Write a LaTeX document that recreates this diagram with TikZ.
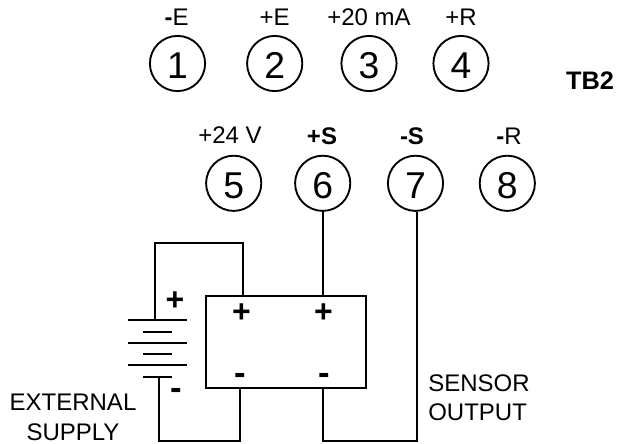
\documentclass[tikz,border=0pt]{standalone}
\usepackage{fontspec}
\setmainfont{Liberation Sans}
\tikzset{
  term/.style={draw=black,circle,line width=1.4pt,minimum size=41.4pt,inner sep=0pt,
    font=\fontsize{28}{28}\selectfont,text height=22.5pt,text depth=0pt},
  lbl/.style={inner sep=0pt,anchor=base,font=\fontsize{18}{18}\selectfont},
  lbll/.style={lbl,anchor=base west},
  tbl/.style={lbl,font=\fontsize{19}{19}\selectfont\bfseries},
  sign/.style={inner sep=0pt,anchor=base,font=\fontsize{24}{24}\selectfont\bfseries},
  msign/.style={inner sep=0pt,anchor=base,font=\fontsize{26}{26}\selectfont\bfseries},
  wire/.style={draw=black,line width=1.4pt,line join=miter},
  plate/.style={draw=black,line width=1.4pt}
}
\begin{document}
\begin{tikzpicture}[x=0.75pt,y=-0.75pt]
\useasboundingbox (0,0) rectangle (617,443);
% terminals
\node[term] (c1) at (177.5,63.5) {1};
\node[term] (c2) at (274.7,63.5) {2};
\node[term] (c3) at (369,63.5) {3};
\node[term] (c4) at (461,63.5) {4};
\node[term] (c5) at (233.7,183.3) {5};
\node[term] (c6) at (322.7,183.3) {6};
\node[term] (c7) at (415.5,183.3) {7};
\node[term] (c8) at (507.3,183.3) {8};
% labels
\node[lbl] (l1) at (176.7,25) {{\bfseries -}E};
\node[lbl] (l2) at (274.7,25) {+E};
\node[lbl] (l3) at (369,25) {+20 mA};
\node[lbl] (l4) at (461,25) {+R};
\node[lbl] (l5) at (230,143.5) {+24 V};
\node[lbl] (l6) at (322,144) {\bfseries +S};
\node[lbl] (l7) at (412,144) {\bfseries -S};
\node[lbl] (l8) at (509,144) {{\bfseries -}R};
\node[tbl] (tb) at (590,89) {TB2};
\node[lbl] (ext) at (73,410.7) {EXTERNAL};
\node[lbl] (sup) at (73,440) {SUPPLY};
\node[lbll] (sen) at (428,391.7) {SENSOR};
\node[lbll] (out) at (428,420.7) {OUTPUT};
% sensor box
\node[draw=black,line width=1.4pt,minimum width=120.6pt,minimum height=69pt,inner sep=0pt] (box) at (286,341.7) {};
% battery plates
\coordinate (p1l) at (128,320); \coordinate (p1r) at (187,320);
\coordinate (p2l) at (143.3,331.7); \coordinate (p2r) at (172.3,331.7);
\coordinate (p3l) at (128,343); \coordinate (p3r) at (187,343);
\coordinate (p4l) at (143.3,354.3); \coordinate (p4r) at (172.3,354.3);
\coordinate (p5l) at (128,365.3); \coordinate (p5r) at (187,365.3);
\coordinate (p6l) at (143.3,376.7); \coordinate (p6r) at (172.3,376.7);
\foreach \i in {1,...,6} \draw[plate] (p\i l) -- (p\i r);
% wire anchors
\coordinate (batp) at (155,320);
\coordinate (batm) at (158.7,376.7);
\coordinate (boxa) at (242.7,295.7);
\coordinate (boxb) at (240,387.7);
\coordinate (boxc) at (322.7,387.7);
\coordinate (boxd) at (322.7,295.7);
% wires
\draw[wire] (batp) -- (155,243.3) -- (242.7,243.3) -- (boxa);
\draw[wire] (batm) -- (158.7,440.7) -- (240,440.7) -- (boxb);
\draw[wire] (c6.south) -- (boxd);
\draw[wire] (c7.south) ++(1.2,0) -- (416.7,440.7) -- (322.7,440.7) -- (boxc);
% signs
\node[sign] (s1) at (175,310.5) {+};
\node[sign] (s2) at (241.5,322.5) {+};
\node[sign] (s3) at (323.5,322.5) {+};
\node[msign] (s4) at (240,384.5) {-};
\node[msign] (s5) at (324,384.5) {-};
\node[msign] (s6) at (176,399) {-};
\end{tikzpicture}
\end{document}
